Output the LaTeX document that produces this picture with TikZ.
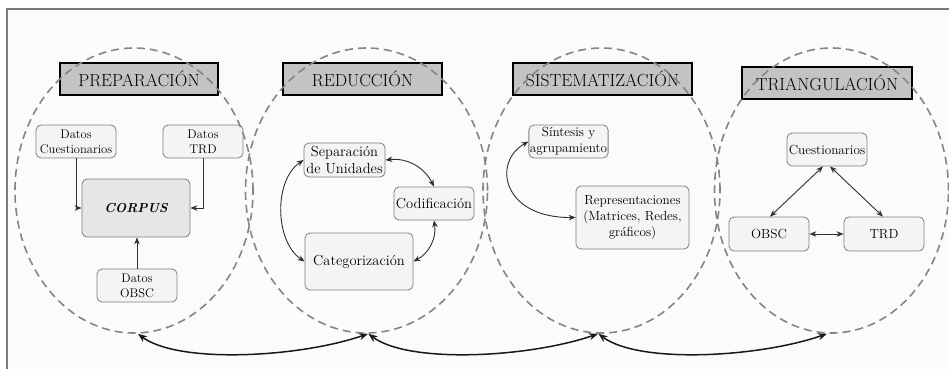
\documentclass[tikz,border=0pt]{standalone}
\usetikzlibrary{arrows.meta,shapes.geometric}
\definecolor{framegray}{HTML}{7A7A7A}
\definecolor{bgcol}{HTML}{FBFBFB}
\definecolor{titlegray}{HTML}{C3C3C3}
\definecolor{boxfill}{HTML}{F4F4F4}
\definecolor{corpusfill}{HTML}{E6E6E6}
\definecolor{boxline}{HTML}{7F7F7F}
\definecolor{arrowcol}{HTML}{303030}
\definecolor{circlecol}{HTML}{858585}
\begin{document}
\begin{tikzpicture}[x=1pt,y=-1pt,
  >={Stealth[length=7pt,width=5.5pt]},
  titlebox/.style={draw=black, line width=2pt, fill=titlegray, minimum height=32pt, inner sep=0pt, font=\fontsize{17.5}{20}\selectfont},
  box/.style={draw=boxline, fill=boxfill, rounded corners=5pt, line width=0.8pt, align=center, inner sep=1pt},
  fprep/.style={font=\fontsize{12.5}{15}\selectfont},
  fred/.style={font=\fontsize{14.5}{17}\selectfont},
  fsis/.style={font=\fontsize{13.2}{16}\selectfont},
  conn/.style={draw=arrowcol, line width=0.9pt},
  phase/.style={draw=circlecol, dash pattern=on 8pt off 5pt, line width=1.6pt, shape=ellipse, minimum width=238pt, minimum height=285pt, inner sep=0pt},
  cycle/.style={draw=black!90, line width=1.5pt, <->, >={Stealth[length=9pt,width=7pt]}}
]
\useasboundingbox (0,0) rectangle (949,368);
\clip (0,0) rectangle (949,368);
\fill[white] (0,0) rectangle (949,368);
\draw[framegray, line width=2.5pt, fill=bgcol] (7,9) rectangle (965,390);

% titles
\node[titlebox, minimum width=158pt] (t1) at (139,79) {PREPARACIÓN};
\node[titlebox, minimum width=159pt] (t2) at (362.5,79) {REDUCCIÓN};
\node[titlebox, minimum width=179pt] (t3) at (602.5,79) {SISTEMATIZACIÓN};
\node[titlebox, minimum width=170pt] (t4) at (827,83) {TRIANGULACIÓN};

% preparacion
\node[box, fprep, minimum width=80pt, minimum height=33pt] (dq) at (76,141.5) {Datos\\Cuestionarios};
\node[box, fprep, minimum width=80pt, minimum height=33pt] (dt) at (203,141.5) {Datos\\TRD};
\node[box, fill=corpusfill, minimum width=108pt, minimum height=58pt, font=\fontsize{13}{15}\selectfont\bfseries\itshape] (corpus) at (136,208) {CORPUS};
\node[box, fprep, minimum width=80pt, minimum height=33pt] (do) at (137,285.5) {Datos\\OBSC};
\draw[conn, ->] (dq.south) |- (corpus.west);
\draw[conn, ->] (dt.south) |- (corpus.east);
\draw[conn, ->] (do.north) -- (do.north |- corpus.south);

% reduccion
\node[box, fred, minimum width=81pt, minimum height=34pt] (sep) at (344.5,160) {Separación\\de Unidades};
\node[box, fred, minimum width=80pt, minimum height=33pt] (cod) at (434,203.5) {Codificación};
\node[box, fred, minimum width=108pt, minimum height=57pt] (cat) at (359,261.5) {Categorización};
\draw[conn, <->] (sep.west) .. controls +(-30,20) and +(-30,-20) .. (cat.west);
\draw[conn, <->] (sep.east) to[bend left=35] (cod.north);
\draw[conn, <->] (cod.south) to[bend left=35] (cat.east);

% sistematizacion
\node[box, fsis, minimum width=79pt, minimum height=33pt] (sin) at (568.5,141.5) {Síntesis y\\agrupamiento};
\node[box, fsis, minimum width=113pt, minimum height=63pt] (rep) at (632.5,217.5) {Representaciones\\(Matrices, Redes,\\gráficos)};
\draw[conn, <->] (sin.west) .. controls (492,162) and (502,218) .. (rep.west);

% triangulacion
\node[box, fsis, minimum width=80pt, minimum height=33pt] (cue) at (827,149.5) {Cuestionarios};
\node[box, fsis, minimum width=80pt, minimum height=34pt] (obsc) at (769,234) {OBSC};
\node[box, fsis, minimum width=80pt, minimum height=34pt] (trd) at (884,234) {TRD};
\draw[conn, <->] ([xshift=-4pt]cue.south) -- ([xshift=1pt]obsc.north);
\draw[conn, <->] ([xshift=3pt]cue.south) -- ([xshift=-1pt]trd.north);
\draw[conn, <->] (obsc.east) -- (trd.west);

% phase circles
\node[phase] (c1) at (134,190.5) {};
\node[phase, minimum width=242pt] (c2) at (366.5,190.5) {};
\node[phase, minimum width=237pt] (c3) at (601.5,190.5) {};
\node[phase, minimum width=234pt] (c4) at (831.5,190.5) {};

% cycle arrows
\draw[cycle] ([xshift=4pt]c1.south) .. controls +(40,30) and +(-70,24) .. ([xshift=1.5pt]c2.south);
\draw[cycle] ([xshift=2pt]c2.south) .. controls +(40,30) and +(-70,24) .. ([xshift=-3.5pt]c3.south);
\draw[cycle] ([xshift=-3pt]c3.south) .. controls +(40,30) and +(-70,24) .. ([xshift=-4.5pt]c4.south);
\end{tikzpicture}
\end{document}
